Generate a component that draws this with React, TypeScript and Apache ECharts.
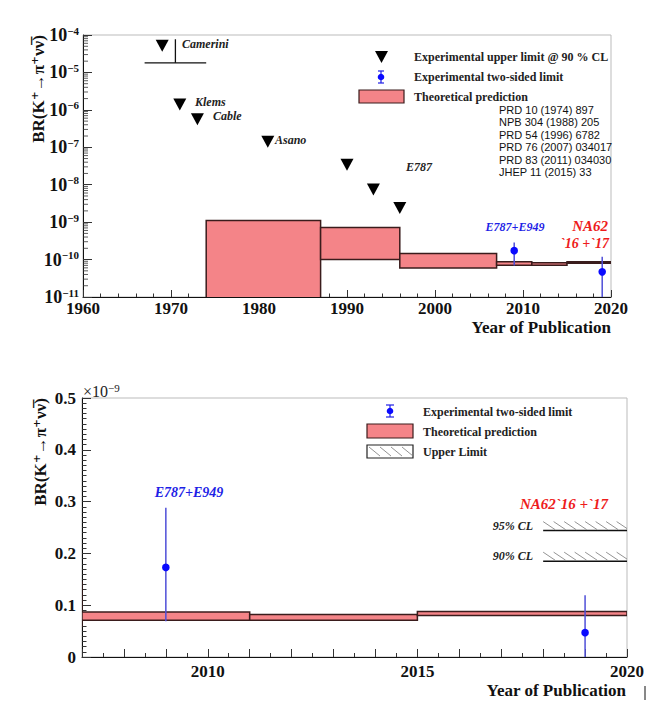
import { useEffect, useRef } from "react";
import * as echarts from "echarts";

/** Theory prediction bins (edges in years, band in BR) */
const binEdges = [1974, 1987, 1996, 2007, 2011, 2015, 2020];
const theoryLow = [1e-12, 1.0e-10, 6.0e-11, 7.1e-11, 7.1e-11, 8.0e-11];
const theoryHigh = [1.1e-9, 7.2e-10, 1.45e-10, 8.7e-11, 8.2e-11, 8.8e-11];

/** Experimental upper limits @ 90% CL */
const limitYears = [1969, 1971, 1973, 1981, 1990, 1993, 1996];
const limitValues = [5.2e-5, 1.4e-6, 5.6e-7, 1.4e-7, 3.4e-8, 7.5e-9, 2.4e-9];

/** Experimental two-sided limits */
const measYears = [2009, 2019];
const measValues = [1.73e-10, 0.47e-10];
const measLow = [0.69e-10, 0];
const measHigh = [2.88e-10, 1.19e-10];

/** NA62 upper limits drawn in the lower panel */
const na62Range = [2018, 2020];
const na62Limits = [2.44e-10, 1.85e-10];
const na62Names = ["95% CL", "90% CL"];

/** Camerini marker */
const cameriniSpan = [1967, 1974];
const cameriniLevel = 1.8e-5;
const cameriniStem = [1970.5, 7.7e-5];

const references = [
  "PRD 10 (1974) 897",
  "NPB 304 (1988) 205",
  "PRD 54 (1996) 6782",
  "PRD 76 (2007) 034017",
  "PRD 83 (2011) 034030",
  "JHEP 11 (2015) 33",
];

const decades = [-11, -10, -9, -8, -7, -6, -5];
const SCALE = 1e-9;

const SERIF = "'Liberation Serif', 'DejaVu Serif', serif";
const SANS = "'Liberation Sans', Arial, sans-serif";
const FILL = "#f48488";
const EDGE = "#3a1c1c";
const BLUE = "#1f1fe6";
const RED = "#ee1c1c";
const YTITLE = "BR(K\u207A\u2192\u03C0\u207A\u03BD\u03BD\u0305)";

const boxItem = (params: any, api: any) => {
  const a = api.coord([api.value(0), api.value(3)]);
  const b = api.coord([api.value(1), api.value(2)]);
  return {
    type: "rect",
    shape: { x: a[0], y: a[1], width: b[0] - a[0], height: b[1] - a[1] },
    style: { fill: FILL, stroke: EDGE, lineWidth: 1.5 },
  };
};

const measItem = (floor: number) => (params: any, api: any) => {
  const x = api.value(0);
  const lo = api.value(2) > 0 ? api.value(2) : floor;
  const p = api.coord([x, api.value(1)]);
  const pLo = api.coord([x, lo]);
  const pHi = api.coord([x, api.value(3)]);
  return {
    type: "group",
    children: [
      {
        type: "line",
        shape: { x1: pLo[0], y1: pLo[1], x2: pHi[0], y2: pHi[1] },
        style: { stroke: "#4f4fd8", lineWidth: 1.5 },
      },
      {
        type: "circle",
        shape: { cx: p[0], cy: p[1], r: 3.8 },
        style: { fill: "#0a0aff" },
      },
    ],
  };
};

const hatchItem = (params: any, api: any) => {
  const a = api.coord([api.value(0), api.value(2)]);
  const b = api.coord([api.value(1), api.value(2)]);
  const children: any[] = [
    {
      type: "line",
      shape: { x1: a[0], y1: a[1], x2: b[0], y2: b[1] },
      style: { stroke: "#111", lineWidth: 1.5 },
    },
    {
      type: "text",
      style: {
        x: a[0] - 10,
        y: a[1] - 5,
        text: na62Names[params.dataIndex],
        align: "right",
        verticalAlign: "middle",
        font: `italic bold 12px ${SERIF}`,
        fill: "#222",
      },
    },
  ];
  for (let x = a[0]; x < b[0] - 2; x += 10.5) {
    const x2 = Math.min(x + 12, b[0]);
    children.push({
      type: "line",
      shape: { x1: x, y1: a[1] - 9, x2, y2: a[1] - 9 + (x2 - x) * 0.67 },
      style: { stroke: "#777", lineWidth: 0.8 },
    });
  }
  return { type: "group", children };
};

const logTickItem = (params: any, api: any) => {
  const d = api.value(0);
  const children: any[] = [];
  for (let k = 2; k <= 9; k++) {
    const p = api.coord([1960, k * Math.pow(10, d)]);
    children.push({
      type: "line",
      shape: { x1: p[0], y1: p[1], x2: p[0] + 5, y2: p[1] },
      style: { stroke: "#333", lineWidth: 0.8 },
    });
  }
  return { type: "group", children };
};

const cameriniItem = (params: any, api: any) => {
  const a = api.coord([api.value(0), api.value(2)]);
  const b = api.coord([api.value(1), api.value(2)]);
  const s = api.coord([api.value(3), api.value(4)]);
  return {
    type: "group",
    children: [
      { type: "line", shape: { x1: a[0], y1: a[1], x2: b[0], y2: b[1] }, style: { stroke: "#111", lineWidth: 1.3 } },
      { type: "line", shape: { x1: s[0], y1: s[1], x2: s[0], y2: a[1] }, style: { stroke: "#111", lineWidth: 1.3 } },
    ],
  };
};

const axisLabelFont = { fontFamily: SERIF, fontWeight: "bold" as const, fontSize: 17, color: "#111" };

const txt = (x: number, y: number, text: string, font: string, fill = "#222", align = "left") => ({
  type: "text",
  x,
  y,
  style: { text, font, fill, align, verticalAlign: "middle" },
});

export default function App() {
  const chartRef = useRef<HTMLDivElement>(null);

  useEffect(() => {
    document.body.style.margin = "0";
    if (!chartRef.current) return;
    const chart = echarts.init(chartRef.current, null, { renderer: "svg" });

    const boxes = binEdges.slice(0, -1).map((x0, i) => [x0, binEdges[i + 1], theoryLow[i], theoryHigh[i]]);
    const boxesScaled = boxes.map((b) => [b[0], b[1], b[2] / SCALE, b[3] / SCALE]);
    const meas = measYears.map((y, i) => [y, measValues[i], measLow[i], measHigh[i]]);
    const measScaled = meas.map((m) => [m[0], m[1] / SCALE, m[2] / SCALE, m[3] / SCALE]);

    const option = {
      animation: false,
      grid: [
        { left: 83, right: 37, top: 35, height: 262, show: true, borderColor: "#bbb", borderWidth: 1 },
        { left: 82, right: 21, top: 398, height: 259, show: true, borderColor: "#bbb", borderWidth: 1 },
      ],
      xAxis: [
        {
          type: "value",
          gridIndex: 0,
          min: 1960,
          max: 2020,
          interval: 10,
          axisLine: { lineStyle: { color: "#111" } },
          axisTick: { inside: true, length: 7, lineStyle: { color: "#333" } },
          minorTick: { show: true, splitNumber: 5, length: 3.5, lineStyle: { color: "#333" } },
          splitLine: { show: false },
          axisLabel: { ...axisLabelFont, margin: 3, formatter: (v: number) => String(v) },
        },
        {
          type: "value",
          gridIndex: 1,
          min: 2007,
          max: 2020,
          interval: 1,
          axisLine: { lineStyle: { color: "#111" } },
          axisTick: { inside: true, length: 8, lineStyle: { color: "#333" } },
          minorTick: { show: true, splitNumber: 2, length: 4, lineStyle: { color: "#333" } },
          splitLine: { show: false },
          axisLabel: {
            ...axisLabelFont,
            margin: 6,
            showMaxLabel: true,
            formatter: (v: number) => (v % 5 === 0 ? String(v) : ""),
          },
        },
      ],
      yAxis: [
        {
          type: "log",
          gridIndex: 0,
          logBase: 10,
          min: 1e-11,
          max: 1e-4,
          splitNumber: 10,
          axisLine: { show: true, lineStyle: { color: "#111" } },
          axisTick: { show: true, inside: true, length: 9, lineStyle: { color: "#333" } },
          splitLine: { show: false },
          axisLabel: {
            margin: 4,
            formatter: (v: number) => `{b|10}{s|\u2212${-Math.round(Math.log10(v))}}`,
            rich: {
              b: { ...axisLabelFont, fontSize: 18, lineHeight: 20 },
              s: { fontFamily: SERIF, fontWeight: "bold", fontSize: 11, color: "#111", verticalAlign: "top", lineHeight: 20, padding: [0, 0, 6, 0] },
            },
          },
        },
        {
          type: "value",
          gridIndex: 1,
          min: 0,
          max: 0.5,
          interval: 0.1,
          axisLine: { show: true, lineStyle: { color: "#111" } },
          axisTick: { show: true, inside: true, length: 9, lineStyle: { color: "#333" } },
          minorTick: { show: true, splitNumber: 10, length: 4.5, lineStyle: { color: "#333" } },
          splitLine: { show: false },
          axisLabel: { ...axisLabelFont, margin: 6, formatter: (v: number) => (v === 0 ? "0" : v.toFixed(1)) },
        },
      ],
      series: [
        {
          type: "custom",
          xAxisIndex: 0,
          yAxisIndex: 0,
          clip: true,
          renderItem: boxItem,
          data: boxes,
        },
        {
          type: "scatter",
          xAxisIndex: 0,
          yAxisIndex: 0,
          symbol: "triangle",
          symbolRotate: 180,
          symbolSize: [13, 12],
          itemStyle: { color: "#000", opacity: 1 },
          data: limitYears.map((y, i) => [y, limitValues[i]]),
        },
        {
          type: "custom",
          xAxisIndex: 0,
          yAxisIndex: 0,
          clip: true,
          renderItem: measItem(1e-12),
          data: meas,
        },
        {
          type: "custom",
          xAxisIndex: 0,
          yAxisIndex: 0,
          renderItem: cameriniItem,
          data: [[cameriniSpan[0], cameriniSpan[1], cameriniLevel, cameriniStem[0], cameriniStem[1]]],
        },
        {
          type: "custom",
          xAxisIndex: 0,
          yAxisIndex: 0,
          silent: true,
          renderItem: logTickItem,
          data: decades.map((d) => [d]),
        },
        {
          type: "custom",
          xAxisIndex: 1,
          yAxisIndex: 1,
          clip: true,
          renderItem: boxItem,
          data: boxesScaled,
        },
        {
          type: "custom",
          xAxisIndex: 1,
          yAxisIndex: 1,
          clip: true,
          renderItem: measItem(0),
          data: measScaled,
        },
        {
          type: "custom",
          xAxisIndex: 1,
          yAxisIndex: 1,
          renderItem: hatchItem,
          data: na62Limits.map((v) => [na62Range[0], na62Range[1], v / SCALE]),
        },
      ],
      graphic: [
        // axis titles
        { type: "text", x: 38, y: 89, rotation: Math.PI / 2, style: { text: YTITLE, font: `bold 17px ${SERIF}`, fill: "#111", align: "center", verticalAlign: "middle" } },
        { type: "text", x: 40, y: 452, rotation: Math.PI / 2, style: { text: YTITLE, font: `bold 17px ${SERIF}`, fill: "#111", align: "center", verticalAlign: "middle" } },
        txt(611, 327, "Year of Publication", `bold 17px ${SERIF}`, "#111", "right"),
        txt(626, 690, "Year of Publication", `bold 17px ${SERIF}`, "#111", "right"),
        {
          type: "text",
          x: 83,
          y: 391,
          style: {
            text: "{a|\u00D710}{b|\u22129}",
            verticalAlign: "middle",
            rich: {
              a: { fontFamily: SERIF, fontSize: 16, fill: "#222", lineHeight: 18 },
              b: { fontFamily: SERIF, fontSize: 11, fill: "#222", verticalAlign: "top", lineHeight: 18, padding: [0, 0, 6, 0] },
            },
          },
        },
        // top legend
        { type: "polygon", shape: { points: [[375, 51], [388, 51], [381.5, 63]] }, style: { fill: "#000" } },
        txt(414, 57, "Experimental upper limit @ 90 % CL", `bold 12px ${SERIF}`),
        { type: "line", shape: { x1: 381, y1: 71, x2: 381, y2: 83 }, style: { stroke: BLUE, lineWidth: 1.2 } },
        { type: "line", shape: { x1: 378, y1: 71, x2: 384, y2: 71 }, style: { stroke: BLUE, lineWidth: 1.2 } },
        { type: "line", shape: { x1: 378, y1: 83, x2: 384, y2: 83 }, style: { stroke: BLUE, lineWidth: 1.2 } },
        { type: "circle", shape: { cx: 381, cy: 77, r: 3.3 }, style: { fill: "#0a0aff" } },
        txt(414, 77, "Experimental two-sided limit", `bold 12px ${SERIF}`),
        { type: "rect", shape: { x: 359, y: 90, width: 45, height: 13 }, style: { fill: FILL, stroke: EDGE, lineWidth: 1.2 } },
        txt(414, 97, "Theoretical prediction", `bold 12px ${SERIF}`),
        ...references.map((r, i) => txt(499, 109.5 + i * 12.5, r, `11px ${SANS}`, "#111")),
        // top annotations
        txt(182, 44, "Camerini", `italic bold 12px ${SERIF}`),
        txt(195, 102, "Klems", `italic bold 12px ${SERIF}`),
        txt(213, 116, "Cable", `italic bold 12px ${SERIF}`),
        txt(275, 140, "Asano", `italic bold 12px ${SERIF}`),
        txt(406, 167, "E787", `italic bold 12px ${SERIF}`),
        txt(515, 227, "E787+E949", `italic bold 12px ${SERIF}`, BLUE, "center"),
        txt(608, 226, "NA62", `italic bold 15px ${SERIF}`, RED, "right"),
        txt(609, 243, "`16 +`17", `italic bold 14px ${SERIF}`, RED, "right"),
        // bottom legend
        { type: "line", shape: { x1: 390, y1: 405, x2: 390, y2: 417 }, style: { stroke: BLUE, lineWidth: 1.2 } },
        { type: "line", shape: { x1: 386, y1: 405, x2: 394, y2: 405 }, style: { stroke: BLUE, lineWidth: 1.2 } },
        { type: "line", shape: { x1: 386, y1: 417, x2: 394, y2: 417 }, style: { stroke: BLUE, lineWidth: 1.2 } },
        { type: "circle", shape: { cx: 390, cy: 411, r: 3.3 }, style: { fill: "#0a0aff" } },
        txt(423, 412, "Experimental two-sided limit", `bold 12px ${SERIF}`),
        { type: "rect", shape: { x: 367, y: 424, width: 46, height: 14 }, style: { fill: FILL, stroke: EDGE, lineWidth: 1.2 } },
        txt(423, 432, "Theoretical prediction", `bold 12px ${SERIF}`),
        { type: "rect", shape: { x: 367, y: 445, width: 46, height: 13 }, style: { fill: "#fff", stroke: "#222", lineWidth: 1.2 } },
        ...[0, 1, 2, 3].map((k) => ({
          type: "line",
          shape: { x1: 369 + k * 11, y1: 447, x2: 380 + k * 11, y2: 456 },
          style: { stroke: "#777", lineWidth: 0.8 },
        })),
        txt(423, 452, "Upper Limit", `bold 12px ${SERIF}`),
        // bottom annotations
        txt(189, 492, "E787+E949", `italic bold 14px ${SERIF}`, BLUE, "center"),
        txt(608, 504, "NA62`16 +`17", `italic bold 15px ${SERIF}`, RED, "right"),
        { type: "line", shape: { x1: 645, y1: 686, x2: 645, y2: 700 }, style: { stroke: "#111", lineWidth: 1 } },
      ],
    };

    chart.setOption(option as any);

    return () => {
      chart.dispose();
    };
  }, []);

  return <div ref={chartRef} style={{ width: 648, height: 713 }} />;
}
